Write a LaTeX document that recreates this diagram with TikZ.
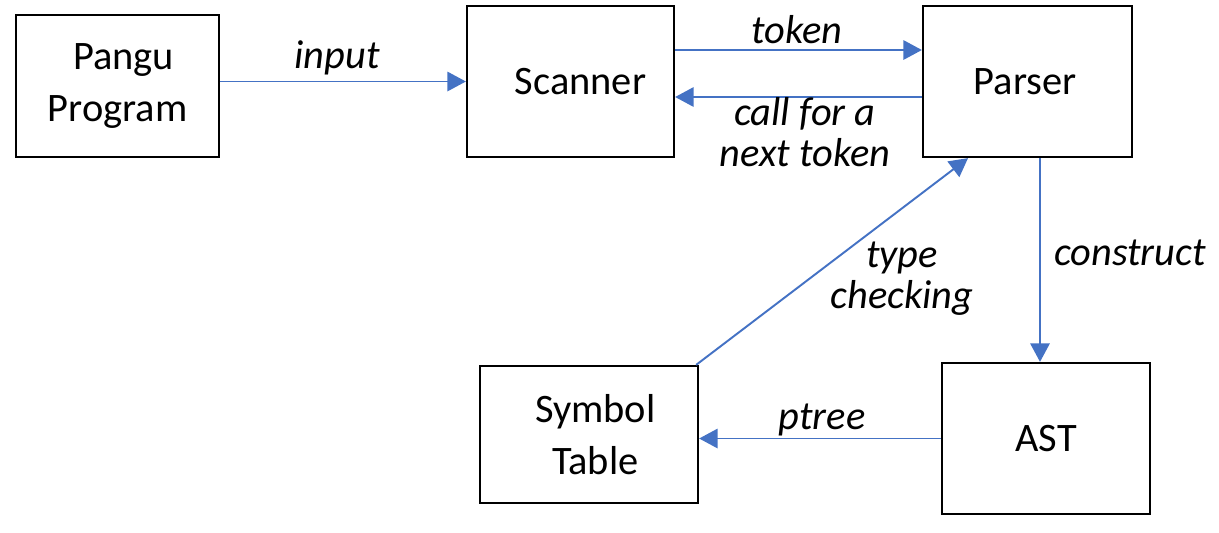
\documentclass[tikz,border=0pt]{standalone}
\usepackage{fontspec}
\setmainfont{Carlito}
\usetikzlibrary{arrows.meta}
\definecolor{arrowblue}{HTML}{4472C4}
\begin{document}
\begin{tikzpicture}[x=0.02cm,y=-0.02cm,
  box/.style={draw=black, line width=1.3pt, inner sep=0pt, align=center,
    font=\fontsize{23}{29.6}\selectfont},
  conn/.style={draw=arrowblue, line width=1.1pt, -{Triangle[length=10.5pt,width=11pt]}},
  lbl/.style={anchor=base, inner sep=0pt, align=center,
    font=\fontsize{23}{23}\selectfont\itshape}]
\useasboundingbox (0,0) rectangle (1219,532);
\node[box, minimum width=4.06cm, minimum height=2.84cm] (pangu) at (117.5,86) {\hspace*{0.25cm}Pangu\\Program};
\node[box, minimum width=4.14cm, minimum height=3.02cm] (scanner) at (570.5,81.5) {\hspace*{0.4cm}Scanner};
\node[box, minimum width=4.18cm, minimum height=3.02cm] (parser) at (1027.5,81.5) {Parser\hspace*{0.1cm}};
\node[box, minimum width=4.16cm, minimum height=3.02cm] (ast) at (1046,438.5) {AST};
\node[box, minimum width=4.36cm, minimum height=2.74cm] (symtab) at (589,434.5) {\hspace*{0.25cm}Symbol\\\hspace*{0.25cm}Table};

\draw[conn] (scanner.west -| pangu.east) -- (scanner.west);
\draw[conn] ([yshift=0.63cm]scanner.east) -- ([yshift=0.63cm]parser.west);
\draw[conn] ([yshift=-0.31cm]parser.west) -- ([yshift=-0.31cm]scanner.east);
\draw[conn] ([xshift=0.25cm]parser.south) -- ([xshift=0.25cm]parser.south |- ast.north);
\draw[conn] (ast.west) -- (ast.west -| symtab.east);
\draw[conn] ([xshift=-0.06cm]symtab.north east) -- ([xshift=-1.19cm]parser.south);

\node[lbl] (linput) at (337,68) {input};
\node[lbl] (ltoken) at (797,43) {token};
\node[lbl] (lcall) at (805,166) {call for a\\next token};
\node[lbl] (lconstruct) at (1130,265) {construct};
\node[lbl] (ltype) at (902,308) {type\\checking};
\node[lbl] (lptree) at (822,429) {ptree};
\end{tikzpicture}
\end{document}
